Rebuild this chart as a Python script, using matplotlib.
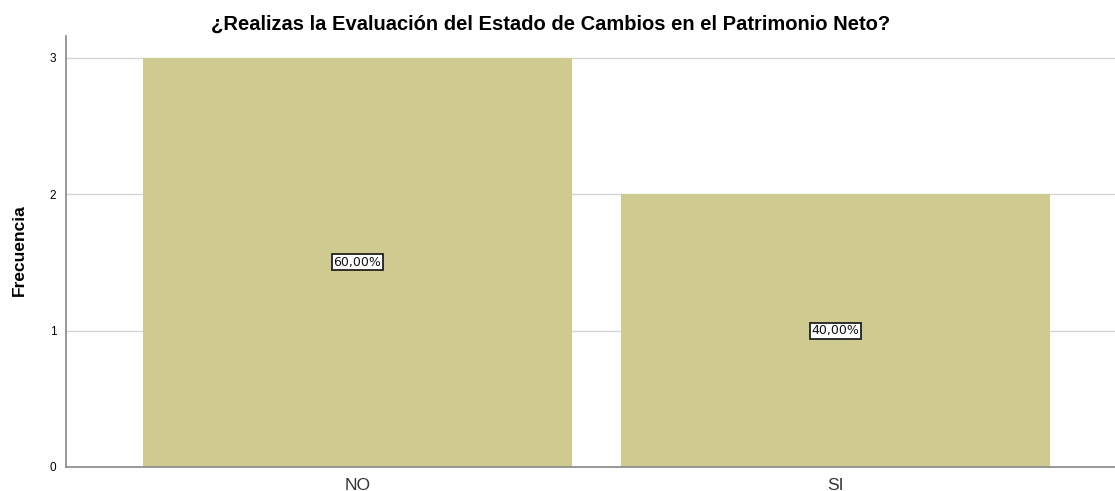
import matplotlib.pyplot as plt

# data
categories = ['NO', 'SI']
frecuencia = [3, 2]
porcentajes = ['60,00%', '40,00%']
yticks = [0, 1, 2, 3]

plt.rcParams['font.family'] = ['Liberation Sans', 'DejaVu Sans']

fig = plt.figure(figsize=(11.15, 4.91), dpi=100)
ax = fig.add_axes([0.0592, 0.0489, 0.9408, 0.8778])

x = list(range(len(categories)))
bars = ax.bar(x, frecuencia, width=0.897, color='#CFCA8F', zorder=2)

for xi, val, pct in zip(x, frecuencia, porcentajes):
    ax.text(xi, val / 2, pct, ha='center', va='center', fontsize=9,
            family='DejaVu Sans', color='#111111', zorder=3,
            bbox=dict(boxstyle='square,pad=0.12', facecolor='white',
                      edgecolor='#222222', linewidth=1.3))

ax.set_xlim(-0.61, 1.585)
ax.set_ylim(0, 3.16)
ax.set_yticks(yticks)
ax.set_yticklabels([str(t) for t in yticks], fontsize=8.5)
ax.set_xticks(x)
ax.set_xticklabels(categories, fontsize=12.5, color='#333333')
ax.tick_params(axis='y', length=0, pad=7)
ax.tick_params(axis='x', length=0, pad=8)

ax.yaxis.grid(True, color='#D4D4D4', linewidth=1, zorder=1)
ax.set_axisbelow(True)
for side in ['top', 'right']:
    ax.spines[side].set_visible(False)
ax.spines['left'].set_color('#888888')
ax.spines['bottom'].set_color('#888888')
ax.spines['left'].set_linewidth(1.2)
ax.spines['bottom'].set_linewidth(1.2)

fig.text(19 / 1115, 0.491, 'Frecuencia', rotation=90, ha='center', va='center',
         fontsize=12.5, fontweight='bold',
         family=['Liberation Sans Narrow', 'Liberation Sans'])
fig.text(0.494, 1 - 30 / 491,
         '¿Realizas la Evaluación del Estado de Cambios en el Patrimonio Neto?',
         ha='center', va='baseline', fontsize=14.5, fontweight='bold')

fig.savefig('out.png', dpi=100, facecolor='white')
